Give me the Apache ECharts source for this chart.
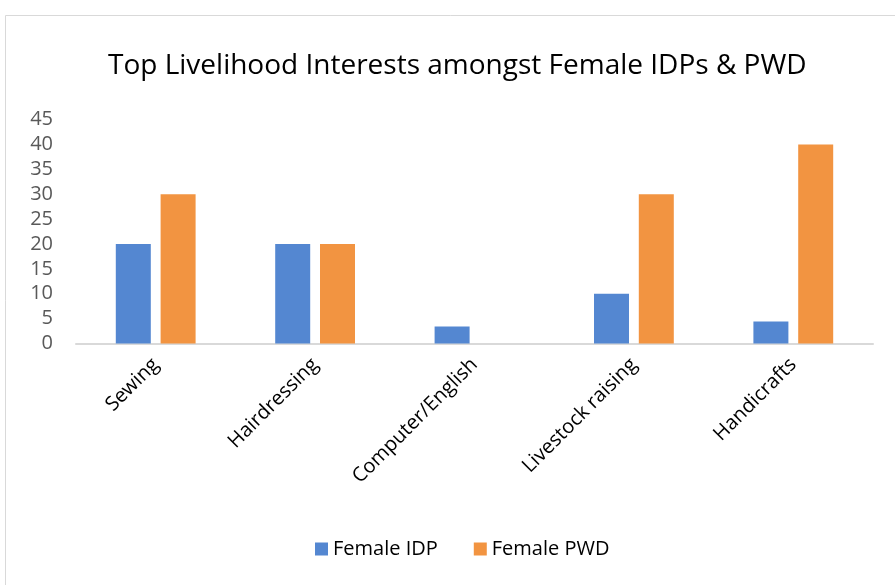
<!DOCTYPE html>
<html>
<head>
<meta charset="utf-8">
<script src="https://cdn.jsdelivr.net/npm/echarts@6/dist/echarts.min.js"></script>
<style>
html, body { margin: 0; padding: 0; background: #fff; }
#main { width: 895px; height: 585px; }
</style>
</head>
<body>
<div id="main"></div>
<script>
// 数据
var categories = ['Sewing', 'Hairdressing', 'Computer/English', 'Livestock raising', 'Handicrafts'];
var femaleIDP = [20, 20, 3.4, 10, 4.4];
var femalePWD = [30, 20, 0, 30, 40];

var myChart = echarts.init(document.getElementById('main'));

var option = {
    backgroundColor: '#fff',
    title: {
        text: 'Top Livelihood Interests amongst Female IDPs & PWD',
        left: 103,
        top: 47,
        textStyle: {
            fontFamily: 'Open Sans',
            fontSize: 28,
            fontWeight: 'normal',
            color: '#000'
        }
    },
    // 外框
    graphic: [{
        type: 'rect',
        shape: { x: 5.5, y: 15.5, width: 900, height: 600 },
        style: { fill: 'none', stroke: '#d9d9d9', lineWidth: 1 },
        silent: true
    }],
    legend: {
        bottom: 21,
        left: 310,
        itemWidth: 13,
        itemHeight: 13,
        itemGap: 36,
        icon: 'rect',
        textStyle: { fontFamily: 'Open Sans', fontSize: 20, color: '#000' },
        data: ['Female IDP', 'Female PWD']
    },
    grid: {
        left: 76,
        right: 22,
        top: 119.5,
        bottom: 241.5,
        containLabel: false
    },
    xAxis: {
        type: 'category',
        data: categories,
        axisLine: { lineStyle: { color: '#d9d9d9', width: 2 } },
        axisTick: { show: false },
        axisLabel: {
            rotate: 45,
            margin: 18,
            interval: 0,
            fontFamily: 'Open Sans',
            fontSize: 20,
            color: '#000'
        }
    },
    yAxis: {
        type: 'value',
        min: 0,
        max: 45,
        interval: 5,
        axisLine: { show: false },
        axisTick: { show: false },
        splitLine: { show: false },
        axisLabel: {
            margin: 23,
            fontFamily: 'Open Sans',
            fontSize: 20,
            color: '#595959',
            padding: [6, 0, 0, 0]
        }
    },
    series: [{
        name: 'Female IDP',
        type: 'bar',
        barWidth: 35,
        barGap: '28%',
        itemStyle: { color: '#5487d1' },
        data: femaleIDP
    }, {
        name: 'Female PWD',
        type: 'bar',
        barWidth: 35,
        itemStyle: { color: '#f29441' },
        data: femalePWD
    }]
};

myChart.setOption(option);
</script>
</body>
</html>
